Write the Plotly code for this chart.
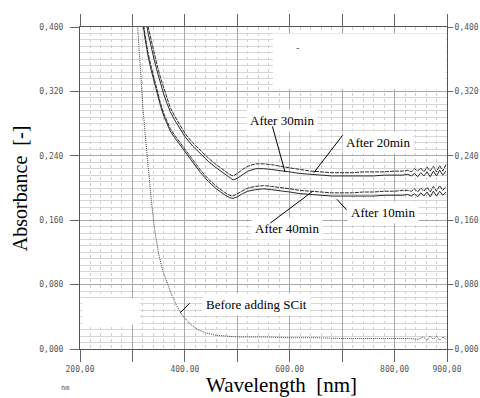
import plotly.graph_objects as go

# ---------------- data ----------------
wavelength = [312, 318, 324, 330, 336, 342, 348, 354, 360, 366, 372, 380, 390, 400, 415, 430, 445,
              460, 475, 485, 492, 500, 510, 520, 535, 550, 565, 580, 600, 620, 640, 660, 680, 700,
              720, 740, 760, 780, 800, 815, 825, 832, 838, 844, 850, 856, 862, 868, 874, 880, 886,
              892, 898]

after_20min = [0.50, 0.46, 0.425, 0.400, 0.382, 0.366, 0.350, 0.336, 0.323, 0.311, 0.300, 0.290, 0.279,
               0.268, 0.256, 0.246, 0.237, 0.229, 0.222, 0.217, 0.215, 0.218, 0.223, 0.227, 0.230, 0.230,
               0.229, 0.227, 0.225, 0.223, 0.221, 0.220, 0.219, 0.219, 0.219, 0.220, 0.220, 0.220, 0.221,
               0.221, 0.222, 0.220, 0.224, 0.221, 0.225, 0.220, 0.226, 0.221, 0.227, 0.220, 0.228, 0.221,
               0.229]

after_30min = [0.49, 0.45, 0.415, 0.392, 0.374, 0.358, 0.343, 0.329, 0.316, 0.305, 0.295, 0.285, 0.274,
               0.264, 0.252, 0.242, 0.233, 0.225, 0.218, 0.213, 0.210, 0.212, 0.217, 0.221, 0.224, 0.224,
               0.223, 0.222, 0.220, 0.218, 0.217, 0.216, 0.215, 0.215, 0.215, 0.215, 0.215, 0.216, 0.216,
               0.216, 0.217, 0.215, 0.218, 0.214, 0.219, 0.215, 0.220, 0.214, 0.221, 0.215, 0.222, 0.216,
               0.221]

after_40min = [0.47, 0.42, 0.390, 0.367, 0.350, 0.334, 0.319, 0.304, 0.292, 0.282, 0.274, 0.266, 0.257,
               0.248, 0.235, 0.222, 0.211, 0.202, 0.195, 0.191, 0.190, 0.193, 0.197, 0.200, 0.202, 0.203,
               0.202, 0.201, 0.199, 0.197, 0.196, 0.195, 0.194, 0.194, 0.194, 0.195, 0.195, 0.196, 0.196,
               0.197, 0.197, 0.196, 0.199, 0.195, 0.200, 0.196, 0.201, 0.195, 0.202, 0.196, 0.203, 0.197,
               0.202]

after_10min = [0.465, 0.415, 0.386, 0.363, 0.346, 0.330, 0.315, 0.301, 0.289, 0.279, 0.271, 0.263, 0.254,
               0.245, 0.232, 0.219, 0.208, 0.199, 0.192, 0.188, 0.187, 0.189, 0.193, 0.196, 0.198, 0.199,
               0.198, 0.197, 0.195, 0.193, 0.192, 0.191, 0.190, 0.190, 0.190, 0.190, 0.190, 0.191, 0.191,
               0.191, 0.192, 0.190, 0.193, 0.189, 0.194, 0.190, 0.195, 0.189, 0.196, 0.190, 0.196, 0.191,
               0.195]

wavelength_before = [300, 305, 310, 315, 320, 325, 330, 336, 342, 350, 358, 366, 375, 385, 395, 410, 425,
                     440, 460, 480, 500, 550, 600, 650, 700, 750, 800, 830, 845, 855, 862, 868, 874, 880,
                     886, 892, 898]
before_scit = [0.50, 0.45, 0.395, 0.350, 0.300, 0.262, 0.225, 0.185, 0.150, 0.118, 0.097, 0.082, 0.067,
               0.053, 0.042, 0.031, 0.024, 0.020, 0.017, 0.016, 0.015, 0.015, 0.014, 0.014, 0.013, 0.013,
               0.013, 0.013, 0.012, 0.015, 0.011, 0.016, 0.012, 0.016, 0.011, 0.015, 0.012]

y_ticks = [0.0, 0.08, 0.16, 0.24, 0.32, 0.40]
y_tick_labels = ["0,000", "0,080", "0,160", "0,240", "0,320", "0,400"]
x_ticks = [200, 300, 400, 500, 600, 700, 800, 900]
x_tick_labels = ["200,00", "", "400.00", "", "600.00", "", "800,00", "900,00"]

# label: (text, text_x, text_y, tip_x, tip_y, ax, ay)
labels = [
    ("After 30min", 585, 0.284, 591, 0.220, -13, -47),
    ("After 20min", 768, 0.257, 646, 0.219, 30, -39),
    ("After 10min", 778, 0.169, 690, 0.186, 11, 12),
    ("After 40min", 595, 0.150, 644, 0.196, -44, 33),
    ("Before adding SCit", 536, 0.055, 391, 0.045, 11, -11),
]

# ---------------- figure ----------------
fig = go.Figure()
line_col = "#2a2a2a"
fig.add_trace(go.Scatter(x=wavelength, y=after_20min, mode="lines",
                         line=dict(color=line_col, width=1, dash="4px,1px")))
fig.add_trace(go.Scatter(x=wavelength, y=after_30min, mode="lines",
                         line=dict(color=line_col, width=1)))
fig.add_trace(go.Scatter(x=wavelength, y=after_40min, mode="lines",
                         line=dict(color=line_col, width=1, dash="4px,1px")))
fig.add_trace(go.Scatter(x=wavelength, y=after_10min, mode="lines",
                         line=dict(color=line_col, width=1)))
fig.add_trace(go.Scatter(x=wavelength_before, y=before_scit, mode="lines",
                         line=dict(color="#444444", width=1, dash="1px,1px")))
fig.add_trace(go.Scatter(x=[None], y=[None], yaxis="y2", mode="lines", showlegend=False))

tick_font = dict(family="DejaVu Sans Mono", size=8, color="#555555")
serif = "Liberation Serif"

fig.update_layout(
    width=480, height=398,
    margin=dict(l=80, r=33, t=27, b=49, autoexpand=False),
    paper_bgcolor="white", plot_bgcolor="white",
    showlegend=False,
    xaxis=dict(range=[200, 900], tickmode="array", tickvals=x_ticks, ticktext=x_tick_labels,
               ticks="outside", ticklen=12, tickcolor="#666666", tickfont=tick_font,
               showline=True, linecolor="#555555", linewidth=1, mirror="ticks", automargin=False,
               showgrid=True, gridcolor="#a8a8a8", gridwidth=1, zeroline=False,
               minor=dict(tickmode="linear", tick0=200, dtick=20, showgrid=True,
                          gridcolor="#d0d0d0", griddash="dot", ticks="")),
    yaxis=dict(range=[0, 0.4], tickmode="array", tickvals=y_ticks, ticktext=y_tick_labels,
               ticks="outside", ticklen=9, tickcolor="#666666", tickfont=tick_font,
               ticklabelstandoff=5,
               showline=True, linecolor="#555555", linewidth=1, mirror=True, automargin=False,
               showgrid=True, gridcolor="#a8a8a8", gridwidth=1, zeroline=False,
               minor=dict(tickmode="linear", tick0=0, dtick=0.008, showgrid=True,
                          gridcolor="#d6d6d6", ticks="")),
    yaxis2=dict(range=[0, 0.4], overlaying="y", side="right", tickmode="array",
                tickvals=y_ticks, ticktext=y_tick_labels, ticks="outside", ticklen=5,
                tickcolor="#666666", tickfont=tick_font, showgrid=False, zeroline=False,
                showline=False, automargin=False),
)

# blank (white) patches over the grid, as in the scanned original
fig.add_shape(type="rect", xref="x", yref="y", x0=568, x1=898, y0=0.323, y1=0.392,
              fillcolor="white", line_width=0, layer="between")
fig.add_shape(type="rect", xref="x", yref="y", x0=204, x1=314, y0=0.030, y1=0.063,
              fillcolor="white", line_width=0, layer="between")

for text, tx, ty, px, py, ax, ay in labels:
    fig.add_annotation(x=tx, y=ty, xref="x", yref="y", text=text, showarrow=False,
                       font=dict(family=serif, size=13, color="black"),
                       bgcolor="white", borderpad=3)
    fig.add_annotation(x=px, y=py, xref="x", yref="y", text="", showarrow=True,
                       arrowhead=0, arrowwidth=1, arrowcolor="black", ax=ax, ay=ay,
                       standoff=0, startstandoff=0)

fig.add_annotation(x=614, y=0.374, xref="x", yref="y", text="-", showarrow=False,
                   font=dict(family="DejaVu Sans Mono", size=9, color="#333333"))

fig.add_annotation(x=-0.163, y=0.5, xref="paper", yref="paper", text="Absorbance  [-]",
                   textangle=-90, showarrow=False, xanchor="center", yanchor="middle",
                   font=dict(family=serif, size=20, color="black"))
fig.add_annotation(x=0.55, y=-0.112, xref="paper", yref="paper", text="Wavelength  [nm]",
                   showarrow=False, xanchor="center", yanchor="middle",
                   font=dict(family=serif, size=21, color="black"))
fig.add_annotation(x=-0.041, y=-0.121, xref="paper", yref="paper", text="nm",
                   showarrow=False, xanchor="center", yanchor="middle",
                   font=dict(family="DejaVu Sans Mono", size=7, color="#555555"))

fig.write_html("out.html", config={"displayModeBar": False},
               post_script="document.body.style.margin='0';document.body.style.overflow='hidden';")
